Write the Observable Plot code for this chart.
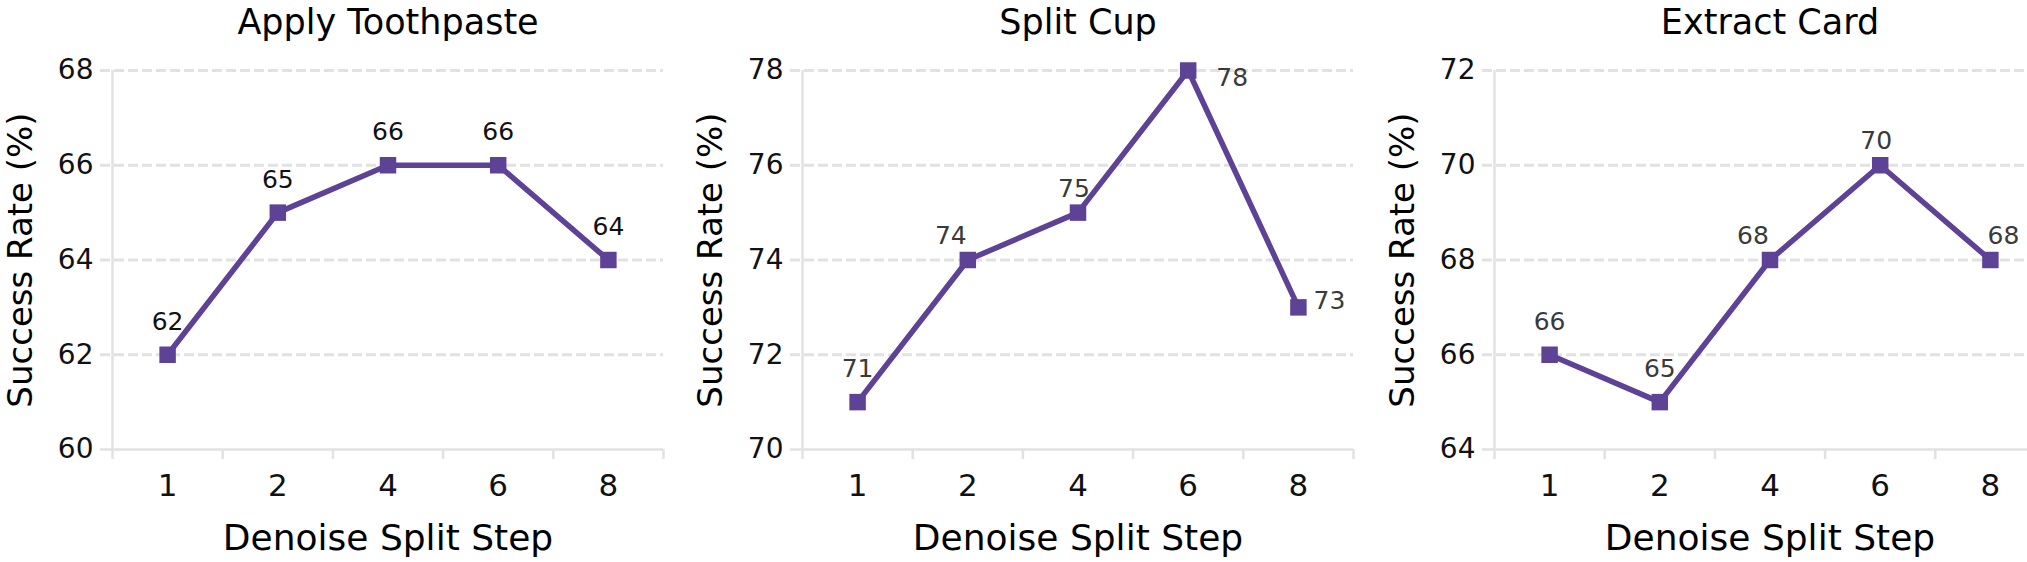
<!DOCTYPE html>
<html><head><meta charset="utf-8">
<script src="https://cdn.jsdelivr.net/npm/d3@7"></script>
<script src="https://cdn.jsdelivr.net/npm/@observablehq/plot@0.6"></script>
<style>
html,body{margin:0;padding:0;background:#fff;overflow:hidden;}
#wrap{position:relative;width:2027px;height:562px;overflow:hidden;background:#fff;}
.panel{position:absolute;top:0;}
.panel svg{max-width:none !important;}
</style></head><body><div id="wrap"></div>
<script>
// ---- data ----
const steps = ["1", "2", "4", "6", "8"];
const titles = ["Apply Toothpaste", "Split Cup", "Extract Card"];
const toothpaste = [62, 65, 66, 66, 64];
const splitCup = [71, 74, 75, 78, 73];
const extractCard = [66, 65, 68, 70, 68];
const yTicksToothpaste = [60, 62, 64, 66, 68];
const yTicksSplitCup = [70, 72, 74, 76, 78];
const yTicksExtractCard = [64, 66, 68, 70, 72];
const xLabel = "Denoise Split Step";
const yLabel = "Success Rate (%)";
// label placement keys (style, not data)
const placeToothpaste = ["above", "above", "above", "above", "above"];
const placeSplitCup = ["above", "upLeft", "upNear", "rightLow", "right"];
const placeExtractCard = ["above", "above", "upLeft", "upNear", "upRight"];

const offsets = {
  above: [0, -33], upLeft: [-17, -24], upNear: [-4, -24], upRight: [13, -24],
  rightLow: [44, 7], right: [31, -6]
};
const lineColor = "#5e4296";
const gridColor = "#e2e2e2";
const frameW = 551;

function panel({title, values, yTicks, place, left, marginLeft, width, labelColor}) {
  const data = steps.map((s, i) => ({i, step: s, v: values[i], place: place[i]}));
  const idx = d3.range(steps.length);
  const bounds = d3.range(steps.length + 1).map(k => k - 0.5);
  const labelMarks = Object.entries(offsets).map(([k, [dx, dy]]) =>
    Plot.text(data.filter(d => d.place === k), {
      x: "i", y: "v", text: d => String(d.v), dx, dy,
      fontSize: 25, fill: labelColor, lineAnchor: "middle"
    }));
  const svg = Plot.plot({
    width, height: 562,
    marginLeft, marginRight: width - marginLeft - frameW, marginTop: 70, marginBottom: 113,
    x: {domain: [bounds[0], bounds[bounds.length - 1]]},
    y: {domain: [yTicks[0], yTicks[yTicks.length - 1]]},
    style: {fontFamily: "DejaVu Sans", background: "transparent", overflow: "visible", maxWidth: "none"},
    marks: [
      Plot.gridY(yTicks.slice(1), {stroke: gridColor, strokeOpacity: 1, strokeWidth: 3, strokeDasharray: "10,4", insetLeft: -12}),
      Plot.ruleY([yTicks[0]], {stroke: gridColor, strokeWidth: 2.5, insetLeft: -12}),
      Plot.ruleX([bounds[0]], {stroke: gridColor, strokeWidth: 2.5}),
      Plot.axisX(bounds, {tickSize: 10, stroke: gridColor, strokeWidth: 2.5, tickFormat: () => "", label: null}),
      Plot.axisX(idx, {tickSize: 0, tickPadding: 24, tickFormat: i => steps[i], fontSize: 31, fill: "#111", label: null}),
      Plot.axisY(yTicks, {tickSize: 0, tickPadding: 19, fontSize: 28, fill: "#111", label: null}),
      Plot.line(data, {x: "i", y: "v", stroke: lineColor, strokeWidth: 5.5}),
      Plot.dot(data, {x: "i", y: "v", symbol: "square", r: 9.3, fill: lineColor, stroke: null}),
      ...labelMarks,
      Plot.text([title], {frameAnchor: "top", lineAnchor: "bottom", dy: -37, fontSize: 35, fill: "#000"}),
      Plot.text([xLabel], {frameAnchor: "bottom", lineAnchor: "top", dy: 75, fontSize: 36, fill: "#000"}),
      Plot.text([yLabel], {frameAnchor: "left", rotate: -90, dx: -91, fontSize: 34, fill: "#000", textAnchor: "middle", lineAnchor: "middle"})
    ]
  });
  const div = document.createElement("div");
  div.className = "panel";
  div.style.left = left + "px";
  div.style.width = width + "px";
  div.appendChild(svg);
  document.getElementById("wrap").appendChild(div);
}

panel({title: titles[0], values: toothpaste, yTicks: yTicksToothpaste, place: placeToothpaste,
  left: 0, marginLeft: 112, width: 680, labelColor: "#111"});
panel({title: titles[1], values: splitCup, yTicks: yTicksSplitCup, place: placeSplitCup,
  left: 680, marginLeft: 122, width: 680, labelColor: "#3a3a3a"});
panel({title: titles[2], values: extractCard, yTicks: yTicksExtractCard, place: placeExtractCard,
  left: 1360, marginLeft: 134, width: 695, labelColor: "#3a3a3a"});
</script></body></html>
